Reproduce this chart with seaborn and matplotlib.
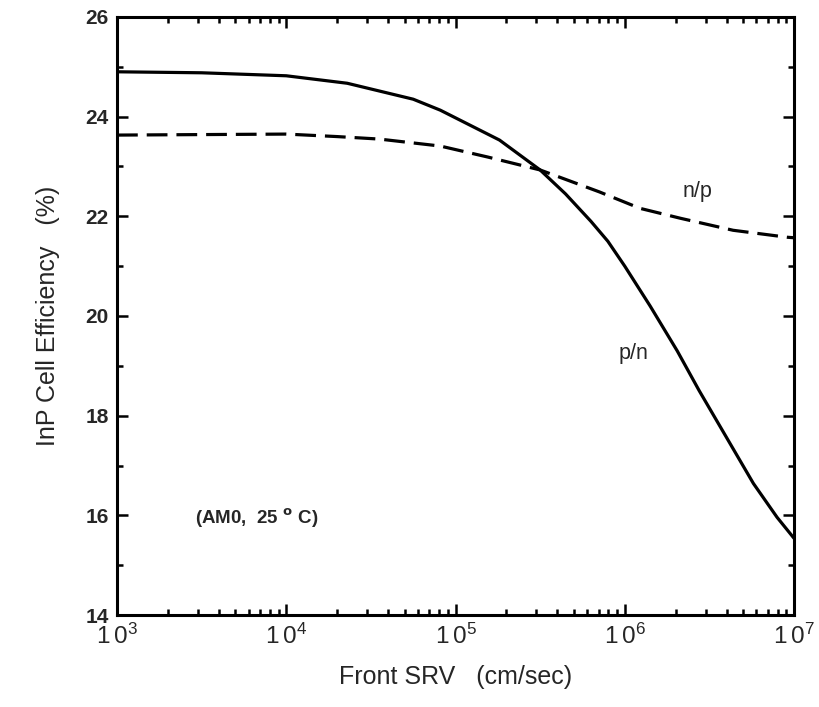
import numpy as np
import pandas as pd
import matplotlib
matplotlib.use("Agg")
import matplotlib.pyplot as plt
import seaborn as sns
from matplotlib.ticker import FixedLocator, LogLocator, NullFormatter

# ---- data (log10 of front SRV in cm/sec, efficiency in %) ----
pn_log_srv = [3.0, 3.5, 4.0, 4.36, 4.75, 4.91, 5.26, 5.5, 5.65, 5.8, 5.9, 6.0,
              6.15, 6.31, 6.44, 6.6, 6.76, 6.9, 7.0]
pn_eff = [24.90, 24.88, 24.82, 24.67, 24.35, 24.13, 23.53, 22.93, 22.45, 21.9,
          21.5, 21.0, 20.2, 19.3, 18.5, 17.57, 16.64, 15.96, 15.54]

np_log_srv = [3.0, 3.5, 4.0, 4.3, 4.55, 4.91, 5.19, 5.5, 5.85, 6.09, 6.33,
              6.64, 6.96, 7.0]
np_eff = [23.63, 23.64, 23.65, 23.60, 23.55, 23.41, 23.19, 22.93, 22.49,
          22.16, 21.96, 21.72, 21.58, 21.57]

x_ticks = [1e3, 1e4, 1e5, 1e6, 1e7]
x_ticklabels = [r"$\mathregular{1\,0^{3}}$", r"$\mathregular{1\,0^{4}}$",
                r"$\mathregular{1\,0^{5}}$", r"$\mathregular{1\,0^{6}}$",
                r"$\mathregular{1\,0^{7}}$"]
y_ticks = [14, 16, 18, 20, 22, 24, 26]

df = pd.concat([
    pd.DataFrame({"srv": np.power(10.0, pn_log_srv), "eff": pn_eff, "cell": "p/n"}),
    pd.DataFrame({"srv": np.power(10.0, np_log_srv), "eff": np_eff, "cell": "n/p"}),
])

sns.set_style("ticks")
plt.rcParams["font.family"] = ["Liberation Sans", "DejaVu Sans"]

fig = plt.figure(figsize=(8.2, 7.07), dpi=100)
ax = fig.add_axes([0.1427, 0.1301, 0.8256, 0.8459])

sns.lineplot(data=df, x="srv", y="eff", style="cell", style_order=["p/n", "n/p"],
             dashes={"p/n": "", "n/p": (6.5, 2.8)}, color="black", linewidth=2.3,
             legend=False, ax=ax, estimator=None, sort=False)

ax.set_xscale("log")
ax.set_xlim(1e3, 1e7)
ax.set_ylim(14, 26)
ax.set_xticks(x_ticks)
ax.set_xticklabels(x_ticklabels, fontsize=17.5)
ax.xaxis.set_minor_locator(LogLocator(base=10, subs=np.arange(2, 10)))
ax.xaxis.set_minor_formatter(NullFormatter())
ax.set_yticks(y_ticks)
ax.set_yticklabels([str(v) for v in y_ticks], fontsize=15, fontweight="bold")
ax.yaxis.set_minor_locator(FixedLocator(np.arange(14, 27, 1)))

ax.tick_params(which="both", direction="in", top=True, right=True, color="black",
               width=1.8)
ax.tick_params(which="major", length=8, pad=6)
ax.tick_params(which="minor", length=4.5)
for s in ax.spines.values():
    s.set_linewidth(2.2)
    s.set_color("black")

ax.set_xlabel("Front SRV   (cm/sec)", fontsize=18, labelpad=12)
ax.set_ylabel("InP Cell Efficiency   (%)", fontsize=18, labelpad=18)

ax.text(2.7e6, 22.5, "n/p", fontsize=15.5, ha="center", va="center")
ax.text(1.12e6, 19.25, "p/n", fontsize=15.5, ha="center", va="center")
ax.text(2.9e3, 15.95, r"(AM0,  25 $^{\mathbf{o}}$ C)", fontsize=13.5,
        fontweight="bold", ha="left", va="center")

fig.savefig("out.png", dpi=100)
